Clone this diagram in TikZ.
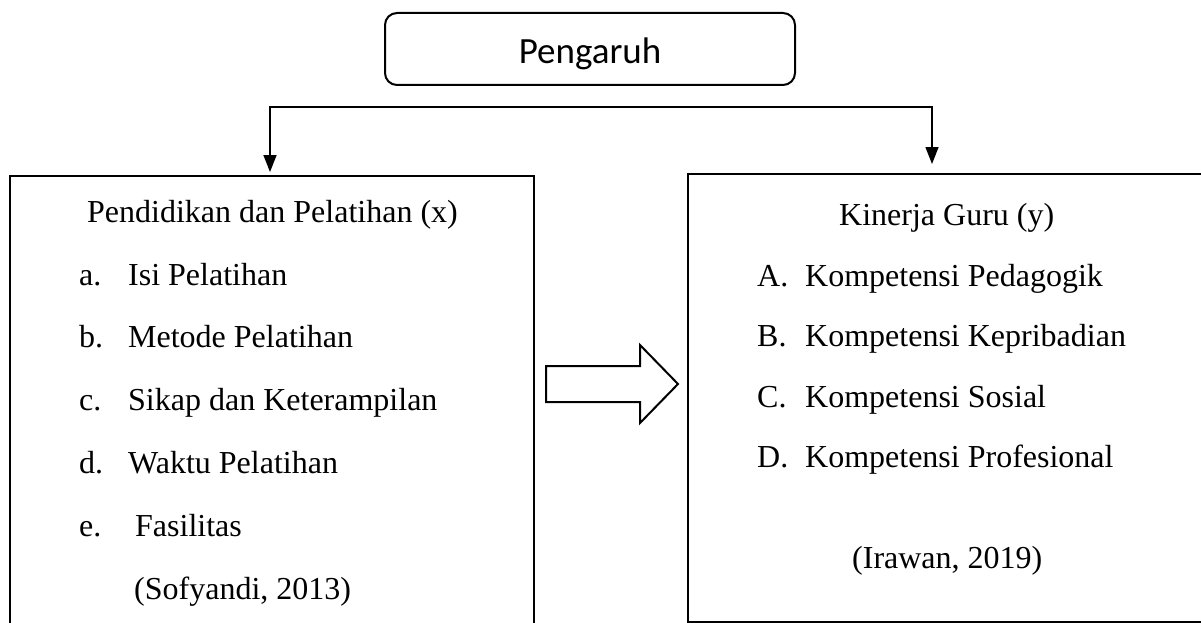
\documentclass[tikz,border=0pt]{standalone}
\usepackage{fontspec}
\setmainfont{Liberation Serif}
\newfontfamily\calibri{Carlito}
\usepackage{tikz}
\usetikzlibrary{arrows.meta}
\usetikzlibrary{calc}
\tikzset{topbox/.style={rectangle,rounded corners=12pt,draw,line width=2pt,
                        minimum width=410pt,minimum height=72pt,inner sep=0pt,
                        text height=32pt,text depth=2pt,font=\calibri\fontsize{37}{44}\selectfont},
         bigbox/.style={rectangle,draw,line width=2.4pt,inner sep=0pt,anchor=north west},
         line/.style={anchor=base west,inner sep=0pt,font=\fontsize{32}{38}\selectfont},
         conn/.style={line width=1.5pt,{Triangle[length=17pt,width=13pt]}-{Triangle[length=17pt,width=13pt]}},
         hollow/.style={draw,line width=2pt,fill=white,line join=miter}
         }

\begin{document}
\begin{tikzpicture}[x=1pt,y=-1pt]
        \useasboundingbox (0,0) rectangle (1201,623);
        \clip (0,0) rectangle (1201,623);

        % top box
        \node[topbox] (pengaruh) at (590,49) {Pengaruh};

        % the two boxes, cut off by the page edge
        \node[bigbox,minimum width=524pt,minimum height=480pt] (pendidikan) at (9,175) {};
        \node[bigbox,minimum width=560pt,minimum height=448pt] (kinerja) at (687,173) {};

        % left box text
        \node[line] (xhead) at (87,222) {Pendidikan dan Pelatihan (x)};
        \node[line] (xa) at (79,285) {\makebox[49pt][l]{a.}Isi Pelatihan};
        \node[line] (xb) at (79,347) {\makebox[49pt][l]{b.}Metode Pelatihan};
        \node[line] (xc) at (79,410) {\makebox[49pt][l]{c.}Sikap dan Keterampilan};
        \node[line] (xd) at (79,473) {\makebox[49pt][l]{d.}Waktu Pelatihan};
        \node[line] (xe) at (79,536) {\makebox[56pt][l]{e.}Fasilitas};
        \node[line] (xsrc) at (134,599) {(Sofyandi, 2013)};

        % right box text
        \node[line] (yhead) at (839,225) {Kinerja Guru (y)};
        \node[line] (ya) at (757,286) {\makebox[48pt][l]{A.}Kompetensi Pedagogik};
        \node[line] (yb) at (757,346) {\makebox[48pt][l]{B.}Kompetensi Kepribadian};
        \node[line] (yc) at (757,407) {\makebox[48pt][l]{C.}Kompetensi Sosial};
        \node[line] (yd) at (757,467) {\makebox[48pt][l]{D.}Kompetensi Profesional};
        \node[line] (ysrc) at (852,568) {(Irawan, 2019)};

        % bracket with the two arrows
        \coordinate (tipl) at (270,172);
        \coordinate (tipr) at (932,164);
        \coordinate (barl) at (270,107);
        \coordinate (barr) at (932,107);
        \draw[conn] (tipl) -- (barl) -- (barr) -- (tipr);

        % hollow block arrow between the boxes
        \draw[hollow] (546,366) -- (640,366) -- (640,345) -- (678,384)
                      -- (640,423) -- (640,402) -- (546,402) -- cycle;

    \end{tikzpicture}
\end{document}
